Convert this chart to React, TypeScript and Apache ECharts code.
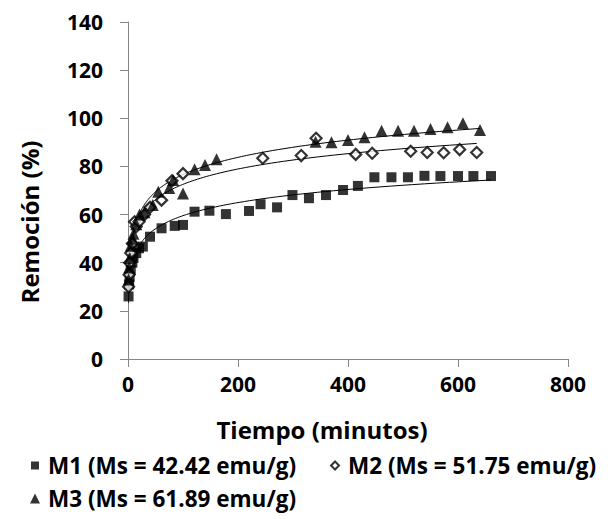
import React, { useEffect, useRef } from "react";
import * as echarts from "echarts";

// ---- Data ----
const m1Time = [1, 2, 3, 5, 8, 10, 15, 20, 27, 40, 61, 85, 100, 121, 148, 178, 220, 241, 271, 299, 329, 360, 391, 418, 448, 479, 509, 539, 568, 600, 628, 660];
const m1Rem = [26, 31, 34, 37, 40, 42, 44, 46, 46.7, 50.8, 54.3, 55.3, 55.7, 61.2, 61.6, 60.2, 61.5, 64.3, 63, 68.1, 66.8, 68.1, 70.2, 71.9, 75.5, 75.5, 75.5, 76.1, 76, 76, 76, 76];

const m2Time = [1, 2, 3, 5, 8, 12, 15, 20, 30, 40, 61, 80, 100, 245, 315, 342, 414, 444, 514, 544, 574, 603, 634];
const m2Rem = [30, 35, 40, 44, 48, 57, 55, 57, 60, 63, 66, 74, 77, 83.4, 84.5, 91.7, 85, 85.5, 86.3, 85.8, 85.7, 87, 85.8];

const m3Time = [1, 2, 3, 5, 8, 10, 15, 21, 30, 45, 55, 75, 82, 100, 121, 140, 161, 341, 370, 400, 430, 461, 491, 520, 550, 581, 609, 640];
const m3Rem = [33, 38, 42, 47, 50, 52, 56, 60, 61, 64, 69.5, 71, 74.4, 68.8, 78.8, 80.6, 83, 90.3, 90, 91, 92.1, 94.8, 94.8, 94.8, 95.5, 96.3, 97.9, 95.1];

const seriesNames = ["M1 (Ms = 42.42 emu/g)", "M2 (Ms = 51.75 emu/g)", "M3 (Ms = 61.89 emu/g)"];

const xMin = 0, xMax = 800, xStep = 200;
const yMin = 0, yMax = 140, yStep = 20;
const xTitle = "Tiempo (minutos)";
const yTitle = "Remoción (%)";

// Excel-style logarithmic trendline: y = a ln(x) + b (least squares on the data)
function logFit(xs: number[], ys: number[]) {
  const n = xs.length;
  let sx = 0, sy = 0, sxx = 0, sxy = 0;
  for (let i = 0; i < n; i++) {
    const lx = Math.log(xs[i]);
    sx += lx; sy += ys[i]; sxx += lx * lx; sxy += lx * ys[i];
  }
  const a = (n * sxy - sx * sy) / (n * sxx - sx * sx);
  const b = (sy - a * sx) / n;
  return { a, b };
}

function trendPoints(xs: number[], ys: number[]) {
  const { a, b } = logFit(xs, ys);
  const lo = Math.min(...xs), hi = Math.max(...xs);
  const pts: number[][] = [];
  const steps = 160;
  for (let i = 0; i <= steps; i++) {
    const x = lo * Math.pow(hi / lo, i / steps);
    pts.push([x, a * Math.log(x) + b]);
  }
  return pts;
}

const zip = (xs: number[], ys: number[]) => xs.map((x, i) => [x, ys[i]]);

const FONT = "'Open Sans', 'Liberation Sans', sans-serif";

export default function App() {
  const ref = useRef<HTMLDivElement>(null);
  useEffect(() => {
    if (!ref.current) return;
    const chart = echarts.init(ref.current, undefined, { renderer: "svg" });
    const tickText = { fontFamily: FONT, fontSize: 21, fontWeight: "bold" as const, color: "#000" };
    const legendText = { fontFamily: FONT, fontSize: 22.5, fontWeight: "bold" as const, color: "#000" };
    const scatterBase = { type: "scatter" as const, z: 3 };
    chart.setOption({
      animation: false,
      backgroundColor: "#fff",
      grid: { left: 128, right: 47, top: 22, bottom: 160, containLabel: false },
      xAxis: {
        type: "value",
        min: xMin, max: xMax, interval: xStep,
        axisLine: { show: true, onZero: false, lineStyle: { color: "#868686", width: 1 } },
        axisTick: { show: true, length: 8, lineStyle: { color: "#868686" } },
        splitLine: { show: false },
        axisLabel: { margin: 14, ...tickText },
      },
      yAxis: {
        type: "value",
        min: yMin, max: yMax, interval: yStep,
        axisLine: { show: true, lineStyle: { color: "#868686", width: 1 } },
        axisTick: { show: true, length: 8, lineStyle: { color: "#868686" } },
        splitLine: { show: false },
        axisLabel: { margin: 25, ...tickText },
      },
      legend: [
        {
          data: [seriesNames[0], seriesNames[1]],
          left: 26, top: 449, orient: "horizontal", itemGap: 34, itemWidth: 8, itemHeight: 8,
          textStyle: { ...legendText, padding: [0, 0, 0, 4] },
        },
        {
          data: [seriesNames[2]],
          left: 25, top: 482, orient: "horizontal", itemWidth: 10, itemHeight: 10,
          textStyle: { ...legendText, padding: [0, 0, 0, 3] },
        },
      ],
      graphic: [
        {
          type: "text", x: 322, y: 429,
          style: { text: xTitle, align: "center", verticalAlign: "middle", font: `bold 24px ${FONT}`, fill: "#000" },
        },
        {
          type: "text", x: 29, y: 222, rotation: Math.PI / 2,
          style: { text: yTitle, align: "center", verticalAlign: "middle", font: `bold 24px ${FONT}`, fill: "#000" },
        },
      ],
      series: [
        { type: "line", name: "t1", data: trendPoints(m1Time, m1Rem), showSymbol: false, lineStyle: { color: "#000", width: 1 }, z: 2, silent: true },
        { type: "line", name: "t2", data: trendPoints(m2Time, m2Rem), showSymbol: false, lineStyle: { color: "#000", width: 1 }, z: 2, silent: true },
        { type: "line", name: "t3", data: trendPoints(m3Time, m3Rem), showSymbol: false, lineStyle: { color: "#000", width: 1 }, z: 2, silent: true },
        {
          ...scatterBase, name: seriesNames[0], data: zip(m1Time, m1Rem),
          symbol: "rect", symbolSize: 10, itemStyle: { color: "#000" },
        },
        {
          ...scatterBase, name: seriesNames[1], data: zip(m2Time, m2Rem),
          symbol: "diamond", symbolSize: 11, itemStyle: { color: "#fff", borderColor: "#000", borderWidth: 2.2 },
        },
        {
          ...scatterBase, name: seriesNames[2], data: zip(m3Time, m3Rem),
          symbol: "triangle", symbolSize: 12, itemStyle: { color: "#000" },
        },
      ],
    });
    return () => chart.dispose();
  }, []);
  return <div ref={ref} style={{ width: 615, height: 519, position: "absolute", left: 0, top: 0 }} />;
}
